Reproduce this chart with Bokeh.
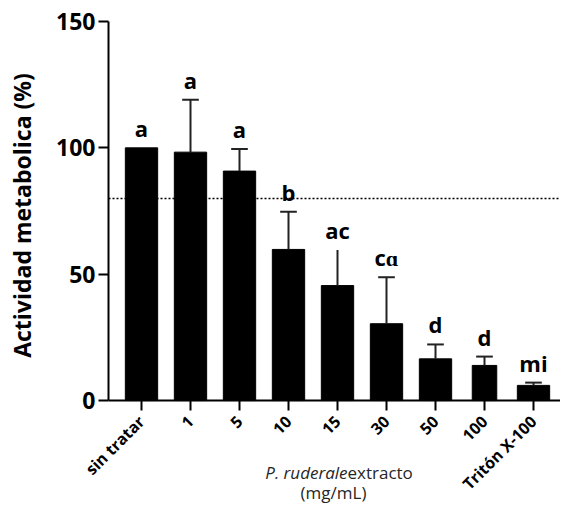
import math
from bokeh.plotting import figure
from bokeh.models import ColumnDataSource, FixedTicker, Label
from bokeh.core.properties import value
from bokeh.embed import file_html
from bokeh.resources import INLINE

# ---- data ----
categories = ["sin tratar", "1", "5", "10", "15", "30", "50", "100", "Tritón X-100"]
means = [100, 98.3, 90.8, 59.8, 45.5, 30.4, 16.5, 13.9, 6.0]
sds = [0, 20.7, 8.7, 14.9, 14.1, 18.4, 5.7, 3.5, 1.1]
letters = ["a", "a", "a", "b", "ac", "cɑ", "d", "d", "mi"]
y_ticks = [0, 50, 100, 150]
threshold = 80

# ---- style / layout ----
bar_widths = [0.66, 0.66, 0.66, 0.66, 0.66, 0.66, 0.66, 0.5, 0.66]
has_cap = [False, True, True, True, False, True, True, True, True]
FONT = "Open Sans"
W, H = 560, 503
PX_X = 49.0          # pixels per category
CAT0 = 141.0         # canvas x of first category
AXIS_X = 108.0       # canvas x of y axis
PX_Y = 2.527         # pixels per % unit
Y150 = 21.0          # canvas y of 150
Y0 = Y150 + 150 * PX_Y
x_left = -CAT0 / PX_X
x_right = (W - CAT0) / PX_X
y_axis_loc = (AXIS_X - CAT0) / PX_X
y_top = 150 + Y150 / PX_Y
y_bot = 150 - (H - Y150) / PX_Y


def sx(px):
    return (px - CAT0) / PX_X


def sy(py):
    return (Y0 - py) / PX_Y


xs = list(range(len(categories)))
tops = [m + s for m, s in zip(means, sds)]
letter_y = [t + 20 / PX_Y for t in tops]

p = figure(width=W, height=H, x_range=(x_left, x_right), y_range=(y_bot, y_top),
           output_backend="svg", toolbar_location=None,
           min_border_left=0, min_border_right=0, min_border_top=0, min_border_bottom=0)
p.outline_line_color = None
p.xgrid.visible = False
p.ygrid.visible = False
p.background_fill_color = "white"
p.border_fill_color = "white"

# threshold dotted line
p.segment(x0=[y_axis_loc], y0=[threshold], x1=[x_right], y1=[threshold], line_color="black",
          line_width=1.5, line_dash="2 2")

src = ColumnDataSource(dict(x=xs, top=means, w=bar_widths, ly=letter_y, lab=letters))
p.vbar(x="x", top="top", width="w", bottom=0, source=src, fill_color="black", line_color="black")

# error bars (upper only)
ex = [x for x, s in zip(xs, sds) if s > 0]
em = [m for m, s in zip(means, sds) if s > 0]
eu = [m + s for m, s in zip(means, sds) if s > 0]
p.segment(x0=ex, y0=em, x1=ex, y1=eu, line_color="#222222", line_width=2)
cx = [x for x, c in zip(xs, has_cap) if c]
cy = [t for t, c in zip(tops, has_cap) if c]
p.segment(x0=[x - 0.17 for x in cx], y0=cy, x1=[x + 0.17 for x in cx], y1=cy,
          line_color="#222222", line_width=2)

# significance letters
p.text(x="x", y="ly", text="lab", source=src, text_font=value(FONT), text_font_style="bold",
       text_font_size="22px", text_align="center", text_baseline="alphabetic",
       text_color="black")

# axes
p.xaxis.fixed_location = 0
p.xaxis.bounds = (y_axis_loc, x_right)
p.xaxis.ticker = FixedTicker(ticks=xs)
p.xaxis.major_label_overrides = {i: c for i, c in enumerate(categories)}
p.xaxis.major_label_orientation = math.pi / 4
p.xaxis.major_label_text_font = FONT
p.xaxis.major_label_text_font_style = "bold"
p.xaxis.major_label_text_font_size = "16px"
p.xaxis.major_label_text_color = "black"
p.xaxis.major_label_standoff = 8
p.xaxis.minor_tick_line_color = None
p.xaxis.major_tick_out = 10
p.xaxis.major_tick_in = 0
p.xaxis.major_tick_line_width = 2
p.xaxis.axis_line_width = 2

p.yaxis.fixed_location = y_axis_loc
p.yaxis.bounds = (0, 150)
p.yaxis.ticker = FixedTicker(ticks=y_ticks)
p.yaxis.major_label_text_font = FONT
p.yaxis.major_label_text_font_style = "bold"
p.yaxis.major_label_text_font_size = "23px"
p.yaxis.major_label_text_color = "black"
p.yaxis.major_label_standoff = 3
p.yaxis.minor_tick_line_color = None
p.yaxis.major_tick_out = 10
p.yaxis.major_tick_in = 0
p.yaxis.major_tick_line_width = 2
p.yaxis.axis_line_width = 2

# y axis title
p.add_layout(Label(x=sx(21), y=sy(215), text="Actividad metabolica (%)", angle=math.pi / 2,
                   text_font=FONT, text_font_style="bold", text_font_size="23px",
                   text_align="center", text_baseline="middle", text_color="black"))

# x axis title with italic species name
p.add_layout(Label(x=sx(347), y=sy(472), text="P. ruderale", text_font=FONT, text_font_style="italic",
                   text_font_size="17px", text_align="right", text_baseline="middle",
                   text_color="#262626"))
p.add_layout(Label(x=sx(347), y=sy(472), text="extracto", text_font=FONT,
                   text_font_size="17px", text_align="left", text_baseline="middle",
                   text_color="#262626"))
p.add_layout(Label(x=sx(333), y=sy(492), text="(mg/mL)", text_font=FONT,
                   text_font_size="17px", text_align="center", text_baseline="middle",
                   text_color="#262626"))

open("out.html", "w").write(file_html(p, INLINE))
